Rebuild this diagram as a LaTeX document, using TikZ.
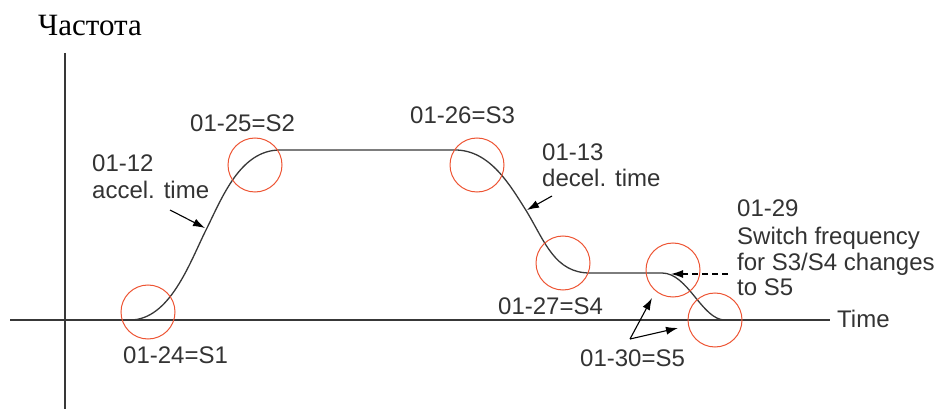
\documentclass[tikz,border=0pt]{standalone}
\usepackage{fontspec}
\setmainfont{Liberation Serif}
\setsansfont{Liberation Sans}
\usetikzlibrary{arrows.meta}
\definecolor{mycurve}{rgb}{0.22,0.22,0.22}
\definecolor{mycircle}{rgb}{0.93,0.33,0.2}
\definecolor{mytext}{rgb}{0.2,0.2,0.2}

\begin{document}
\begin{tikzpicture}[x=1pt,y=-1pt,
  lbl/.style={font=\sffamily\fontsize{24}{26}\selectfont,text=mytext,inner sep=0pt,anchor=base west},
  ptr/.style={line width=1.1pt,-{Latex[length=12pt,width=8pt]}}]
  \useasboundingbox (0,0) rectangle (938,409);
  % axes
  \draw[mycurve,line width=1.6pt] (65,53) -- (65,409);
  \draw[mycurve,line width=1.6pt] (10,320) -- (830,320);
  \node[font=\fontsize{31}{34}\selectfont,inner sep=0pt,anchor=base west] (freq) at (38,36) {Частота};
  \node[lbl] (time) at (837,327) {Time};
  % s-curve
  \draw[mycurve,line width=1.3pt] (130,320) .. controls (170,320) and (190,262) .. (206,230)
     .. controls (222,198) and (240,150) .. (280,150) -- (455,150)
     .. controls (490,150) and (510,185) .. (527,212)
     .. controls (545,242) and (555,273) .. (590,273) -- (662,273)
     .. controls (688,273) and (702,320) .. (725,320);
  % circles
  \foreach \cx/\cy in {148/312,255/165,477/165,563/263,673/270,715/320}
    \draw[mycircle,line width=1pt] (\cx,\cy) circle (27pt);
  % labels
  \node[lbl] (sone) at (123,363) {01-24=S1};
  \node[lbl] (stwo) at (190,132) {01-25=S2};
  \node[lbl] (sthree) at (410,124) {01-26=S3};
  \node[lbl] (sfour) at (498,314) {01-27=S4};
  \node[lbl] (sfive) at (580,366) {01-30=S5};
  \node[lbl] (accnum) at (92,172) {01-12};
  \node[lbl] (acctxt) at (92,199) {accel. time};
  \node[lbl] (decnum) at (542,161) {01-13};
  \node[lbl] (dectxt) at (542,187) {decel. time};
  \node[lbl] (swnum) at (737,217) {01-29};
  \node[lbl] (swone) at (737,244) {Switch frequency};
  \node[lbl] (swtwo) at (737,270) {for S3/S4 changes};
  \node[lbl] (swthree) at (737,295) {to S5};
  % pointers
  \coordinate (accfrom) at (170,210);
  \coordinate (acctip) at (205,228);
  \draw[ptr] (accfrom) -- (acctip);
  \coordinate (decfrom) at (552,196);
  \coordinate (dectip) at (527,210);
  \draw[ptr] (decfrom) -- (dectip);
  \coordinate (swfrom) at (728,274);
  \coordinate (swtip) at (671,274);
  \draw[ptr,dash pattern=on 6pt off 4pt] (swfrom) -- (swtip);
  \coordinate (fivefrom) at (630,339);
  \coordinate (fivetipa) at (652,298);
  \coordinate (fivetipb) at (678,328);
  \draw[ptr] (fivefrom) -- (fivetipa);
  \draw[ptr] (fivefrom) -- (fivetipb);
\end{tikzpicture}
\end{document}
